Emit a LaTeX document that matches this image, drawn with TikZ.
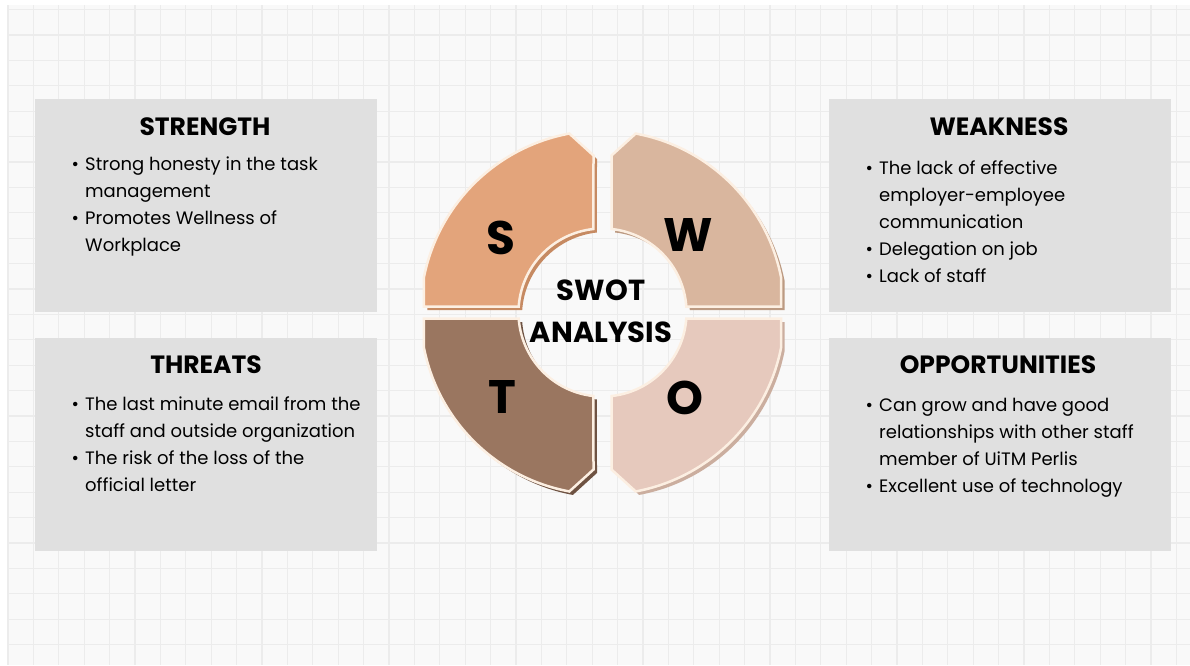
\documentclass[tikz,border=0pt]{standalone}
\usepackage{fontspec}
\setmainfont{Poppins}
\definecolor{paper}{HTML}{F9F9F9}
\definecolor{gridc}{HTML}{ECECEC}
\definecolor{cardc}{HTML}{E0E0E0}
\definecolor{cream}{HTML}{FCEFE2}
\definecolor{sfill}{HTML}{E3A47B}
\definecolor{sshade}{HTML}{C68A62}
\definecolor{wfill}{HTML}{D9B69E}
\definecolor{wshade}{HTML}{BC9A82}
\definecolor{tfill}{HTML}{9A7660}
\definecolor{tshade}{HTML}{6E5242}
\definecolor{ofill}{HTML}{E6C9BD}
\definecolor{oshade}{HTML}{CBAE9F}
% one quarter ring (upper-left orientation), centred on the origin
\newcommand\petalpath{(-9,157) -- (100.5:182) arc[start angle=100.5, end angle=169, radius=182]
  -- (-178.7,6) -- (-83.8,6) arc[start angle=175.9, end angle=96.2, radius=84] -- cycle}
% quarter with its drop shadow: #1 = mirror options, #2 = fill, #3 = shadow colour
\newcommand\petal[3]{%
  \begin{scope}[shift={(3.5,-3.5)}]\begin{scope}[#1]
    \fill[#3] \petalpath;
  \end{scope}\end{scope}
  \begin{scope}[#1]
    \filldraw[fill=#2, draw=cream, line width=2.5pt, line join=miter] \petalpath;
  \end{scope}}
\tikzset{
  gridline/.style={draw=gridc, line width=1.1pt},
  card/.style={fill=cardc, draw=none, minimum width=342pt, minimum height=213pt, inner sep=0pt},
  cardtitle/.style={anchor=base, inner sep=0pt, font=\fontsize{25}{29}\selectfont\bfseries},
  cardbody/.style={anchor=base west, inner sep=0pt, font=\fontsize{18}{27.2}\selectfont},
  bigletter/.style={anchor=base, inner sep=0pt, font=\fontsize{47}{50}\selectfont\bfseries},
  hub/.style={align=center, inner sep=0pt, font=\fontsize{29}{41.5}\selectfont\bfseries}
}
\newcommand\bul{\textbullet}
\begin{document}
\begin{tikzpicture}[x=1pt, y=1pt]
\useasboundingbox (0,0) rectangle (1190,-665);
\fill[white] (0,0) rectangle (1190,-665);
\fill[paper] (8,-5) rectangle (1190,-665);
% squared paper
\foreach \i in {0,...,46} { \draw[gridline] ({8+25.4*\i},-5) -- ({8+25.4*\i},-665); }
\foreach \j in {0,...,25} { \draw[gridline] (8,{-(9.6+25.4*\j)}) -- (1190,{-(9.6+25.4*\j)}); }

% four cards
\node[card] (sbox) at (206,-205.5) {};
\node[card] (wbox) at (999.5,-205.5) {};
\node[card] (tbox) at (206,-444) {};
\node[card] (obox) at (999.5,-444) {};

\node[cardtitle] (stitle) at (205,-135.7) {STRENGTH};
\node[cardtitle] (wtitle) at (999,-135.7) {WEAKNESS};
\node[cardtitle] (ttitle) at (206,-373.5) {THREATS};
\node[cardtitle] (otitle) at (998,-373) {OPPORTUNITIES};

\node[cardbody] (sbody) at (71.5,-170) {\begin{tabular}[t]{@{}p{13.5pt}@{}l@{}}
\bul & Strong honesty in the task\\
 & management\\
\bul & Promotes Wellness of\\
 & Workplace
\end{tabular}};
\node[cardbody] (wbody) at (865.5,-174) {\begin{tabular}[t]{@{}p{13.5pt}@{}l@{}}
\bul & The lack of effective\\
 & employer-employee\\
 & communication\\
\bul & Delegation on job\\
\bul & Lack of staff
\end{tabular}};
\node[cardbody] (tbody) at (71.5,-410) {\begin{tabular}[t]{@{}p{13.5pt}@{}l@{}}
\bul & The last minute email from the\\
 & staff and outside organization\\
\bul & The risk of the loss of the\\
 & official letter
\end{tabular}};
\node[cardbody] (obody) at (865.5,-411) {\begin{tabular}[t]{@{}p{13.5pt}@{}l@{}}
\bul & Can grow and have good\\
 & relationships with other staff\\
 & member of UiTM Perlis\\
\bul & Excellent use of technology
\end{tabular}};

% SWOT wheel
\begin{scope}[shift={(602.5,-312.5)}]
  \petal{}{sfill}{sshade}
  \petal{xscale=-1}{wfill}{wshade}
  \petal{yscale=-1}{tfill}{tshade}
  \petal{xscale=-1,yscale=-1}{ofill}{oshade}
\end{scope}

\node[bigletter] (sl) at (501,-254.5) {S};
\node[bigletter] (wl) at (688,-251.5) {W};
\node[bigletter] (tl) at (502,-413.5) {T};
\node[bigletter] (ol) at (685,-414.5) {O};

\node[hub] (hubtext) at (601,-311.5) {SWOT\\ANALYSIS};
\end{tikzpicture}
\end{document}
